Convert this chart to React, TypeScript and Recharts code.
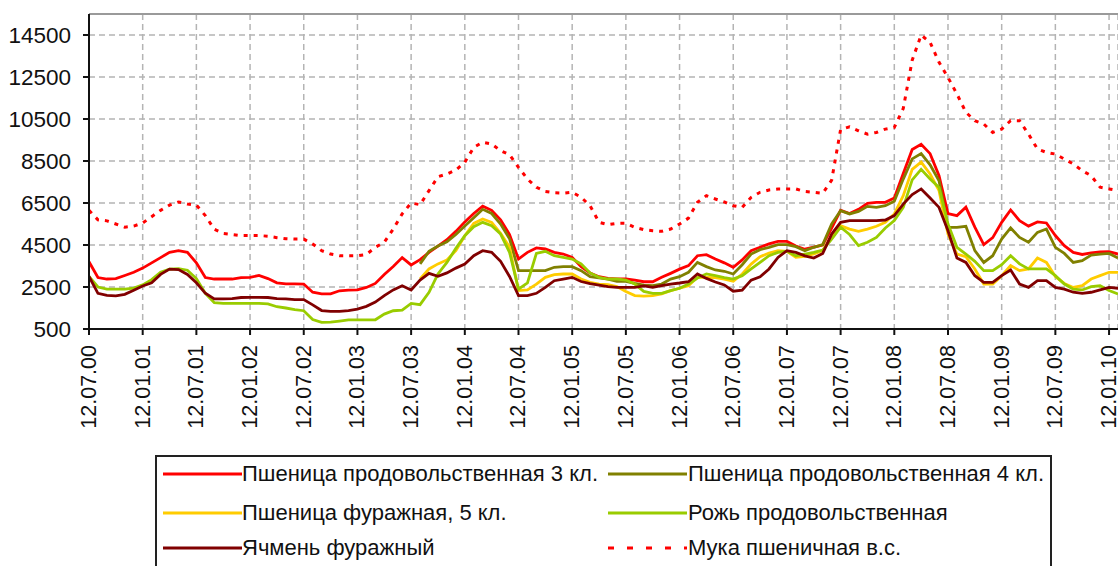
import React from 'react';
import {
  LineChart, Line, XAxis, YAxis, CartesianGrid, ReferenceLine,
} from 'recharts';

const FONT = '"Liberation Sans", Arial, sans-serif';

// months counted from 12.07.2000, one value per month
const months = Array.from({ length: 116 }, (_, i) => i);

const tickMonths = [0, 6, 12, 18, 24, 30, 36, 42, 48, 54, 60, 66, 72, 78, 84, 90, 96, 102, 108, 114];
const tickLabels = [
  '12.07.00', '12.01.01', '12.07.01', '12.01.02', '12.07.02', '12.01.03', '12.07.03',
  '12.01.04', '12.07.04', '12.01.05', '12.07.05', '12.01.06', '12.07.06', '12.01.07',
  '12.07.07', '12.01.08', '12.07.08', '12.01.09', '12.07.09', '12.01.10',
];
const yTicks = [500, 2500, 4500, 6500, 8500, 10500, 12500, 14500];
const Y_MAX = 15500;

const wheat3 = [
  3700, 2950, 2880, 2900, 3050, 3200, 3400, 3650, 3900, 4150, 4230, 4150,
  3650, 2950, 2880, 2880, 2880, 2950, 2960, 3050, 2900, 2700, 2650, 2650,
  2640, 2250, 2170, 2170, 2320, 2350, 2360, 2480, 2670, 3100, 3480, 3900,
  3550, 3800, 4150, 4450, 4750, 5150, 5600, 6000, 6350, 6150, 5700, 5000,
  3830, 4150, 4360, 4310, 4150, 4070, 3910, 3470, 3170, 2990, 2910, 2880,
  2880, 2830, 2750, 2750, 2960, 3150, 3350, 3520, 3990, 4040, 3830, 3650,
  3440, 3790, 4230, 4390, 4550, 4670, 4670, 4450, 4300, 4400, 4500, 5300,
  6150, 6000, 6200, 6480, 6530, 6530, 6740, 7900, 9050, 9300, 8850, 7800,
  6000, 5900, 6300, 5350, 4520, 4850, 5580, 6170, 5660, 5400, 5600, 5550,
  4950, 4470, 4150, 4050, 4120, 4170, 4180, 4070,
];

// 4 кл. and 5 кл. start in August 2003 (month 37)
const LATE_START = 37;
const wheat4 = [
  3600, 4200, 4450, 4650, 5000, 5400, 5800, 6200, 6000, 5500, 4800,
  3280, 3280, 3280, 3280, 3440, 3470, 3470, 3280, 2990, 2930, 2880, 2770,
  2770, 2670, 2590, 2560, 2640, 2880, 2990, 3200, 3670, 3470, 3310, 3250,
  3120, 3560, 4070, 4280, 4390, 4520, 4520, 4420, 4230, 4390, 4520, 5500,
  6130, 5980, 6100, 6340, 6290, 6370, 6580, 7640, 8600, 8850, 8320, 7560,
  5340, 5340, 5390, 4230, 3670, 3990, 4780, 5310, 4860, 4630, 5100, 5260,
  4390, 4100, 3670, 3750, 4020, 4070, 4100, 3880,
];
const wheat5 = [
  2880, 3360, 3600, 3790, 4230, 4940, 5530, 5740, 5580, 5060, 4400,
  2330, 2360, 2640, 2960, 3090, 3120, 3120, 2880, 2720, 2640, 2610, 2520,
  2290, 2090, 2070, 2090, 2170, 2330, 2440, 2560, 2960, 2960, 2950, 2880,
  2770, 3120, 3590, 3940, 4120, 4230, 4200, 3910, 3960, 4070, 4230, 4940,
  5420, 5260, 5150, 5260, 5390, 5580, 5980, 6850, 8100, 8450, 7880, 7090,
  5020, 4070, 3940, 3360, 2640, 2640, 3040, 3520, 3280, 3360, 3880, 3670,
  3000, 2670, 2480, 2560, 2880, 3040, 3200, 3200,
];
const rye = [
  3000, 2500, 2400, 2400, 2400, 2450, 2600, 2850, 3200, 3350, 3370, 3300,
  2900, 2200, 1750, 1720, 1720, 1720, 1720, 1720, 1700, 1560, 1500, 1420,
  1370, 950, 820, 830, 880, 930, 930, 930, 940, 1210, 1370, 1400,
  1720, 1660, 2250, 3120, 3670, 4340, 4940, 5370, 5580, 5420, 5020, 4150,
  2400, 2700, 4100, 4200, 3990, 3910, 3830, 3600, 3170, 2960, 2880, 2880,
  2830, 2640, 2290, 2200, 2200, 2330, 2440, 2640, 2930, 3120, 3040, 2950,
  2880, 3040, 3360, 3670, 3990, 4150, 4200, 3990, 4070, 4150, 4260, 4780,
  5350, 5000, 4470, 4630, 4860, 5310, 5660, 6290, 7600, 8100, 7640, 7240,
  5500, 4390, 4070, 3720, 3280, 3280, 3560, 3990, 3600, 3360, 3360, 3360,
  3040, 2640, 2400, 2360, 2520, 2560, 2330, 2170,
];
const barley = [
  3000, 2200, 2100, 2080, 2150, 2350, 2550, 2700, 3100, 3350, 3330, 3100,
  2700, 2200, 1930, 1930, 1950, 2000, 2010, 2010, 2000, 1950, 1930, 1900,
  1900, 1650, 1380, 1340, 1340, 1380, 1450, 1580, 1780, 2090, 2360, 2560,
  2360, 2830, 3150, 3010, 3170, 3400, 3590, 3990, 4230, 4150, 3720, 3000,
  2090, 2090, 2200, 2480, 2800, 2880, 2960, 2760, 2660, 2590, 2520, 2480,
  2480, 2480, 2550, 2480, 2560, 2640, 2690, 2750, 3120, 2910, 2740, 2600,
  2300, 2350, 2830, 2990, 3360, 3910, 4230, 4150, 3980, 3880, 4100, 5020,
  5580, 5660, 5660, 5660, 5660, 5690, 5900, 6450, 6900, 7170, 6740, 6290,
  5180, 3880, 3670, 3040, 2720, 2720, 3040, 3310, 2640, 2480, 2800, 2800,
  2480, 2400, 2250, 2200, 2250, 2360, 2480, 2440,
];
const flour = [
  6150, 5700, 5650, 5500, 5350, 5400, 5550, 5850, 6150, 6400, 6550, 6450,
  6400, 5900, 5250, 5050, 5000, 4950, 4950, 4950, 4920, 4850, 4800, 4780,
  4780, 4550, 4230, 4070, 3990, 3990, 3990, 4050, 4390, 4630, 5260, 5980,
  6500, 6420, 7090, 7750, 7880, 8070, 8440, 9150, 9390, 9310, 8990, 8800,
  8200, 7640, 7250, 7050, 6990, 6970, 7010, 6770, 6370, 5580, 5470, 5530,
  5530, 5340, 5230, 5180, 5150, 5260, 5500, 5780, 6530, 6850, 6690, 6550,
  6370, 6290, 6770, 7010, 7120, 7170, 7170, 7170, 7050, 7010, 6960, 7590,
  10000, 10130, 9940, 9780, 9860, 10020, 10100, 11000, 13300, 14500, 14150, 13200,
  12480, 11690, 10820, 10420, 10260, 9860, 10020, 10420, 10420, 9780, 9070, 8910,
  8830, 8590, 8360, 8040, 7800, 7250, 7170, 7090,
];

const series = [
  { key: 'wheat3', name: 'Пшеница продовольственная 3 кл.', color: '#ff0000', dashed: false },
  { key: 'wheat4', name: 'Пшеница продовольственная 4 кл.', color: '#808000', dashed: false },
  { key: 'wheat5', name: 'Пшеница фуражная, 5 кл.', color: '#ffcc00', dashed: false },
  { key: 'rye', name: 'Рожь продовольственная', color: '#99cc00', dashed: false },
  { key: 'barley', name: 'Ячмень фуражный', color: '#800000', dashed: false },
  { key: 'flour', name: 'Мука пшеничная в.с.', color: '#ff0000', dashed: true },
];

const data = months.map((t, i) => ({
  t,
  wheat3: wheat3[i],
  wheat4: i >= LATE_START ? wheat4[i - LATE_START] : null,
  wheat5: i >= LATE_START ? wheat5[i - LATE_START] : null,
  rye: rye[i],
  barley: barley[i],
  flour: flour[i],
}));

function DateTick({ x, y, payload }: { x?: number; y?: number; payload?: { value: number } }) {
  const idx = tickMonths.indexOf(payload?.value ?? -1);
  return (
    <text
      transform={`translate(${x},${(y ?? 0) + 8}) rotate(-90)`}
      textAnchor="end"
      dominantBaseline="central"
      fontSize={21.5}
      fontFamily={FONT}
      fill="#111"
    >
      {tickLabels[idx]}
    </text>
  );
}

function LegendBox() {
  const rowY = [17, 56, 91];
  const colSample = [6, 451];
  const colText = [85, 531];
  return (
    <div
      style={{
        position: 'absolute', left: 155, top: 455, width: 897, height: 140,
        border: '2px solid #222', boxSizing: 'border-box', background: '#fff',
      }}
    >
      {series.map((s, i) => {
        const row = Math.floor(i / 2);
        const col = i % 2;
        return (
          <div key={s.key}>
            <svg
              width={80}
              height={10}
              style={{ position: 'absolute', left: colSample[col], top: rowY[row] - 5 }}
            >
              <line
                x1={0} y1={5} x2={79} y2={5}
                stroke={s.color}
                strokeWidth={3}
                strokeDasharray={s.dashed ? '6 13' : undefined}
              />
            </svg>
            <span
              style={{
                position: 'absolute', left: colText[col], top: rowY[row] - 13,
                fontSize: 22, lineHeight: '26px', color: '#111', whiteSpace: 'nowrap',
              }}
            >
              {s.name}
            </span>
          </div>
        );
      })}
    </div>
  );
}

export default function App() {
  return (
    <div
      style={{
        position: 'relative', width: 1118, height: 566, overflow: 'hidden',
        fontFamily: FONT, background: '#fff',
      }}
    >
      <style>{'html, body { margin: 0; overflow: hidden; }'}</style>
      <div style={{ position: 'absolute', left: 8, top: 8 }}>
        <LineChart width={1110} height={440} data={data} margin={{ top: 6, right: 0, bottom: 0, left: 0 }}>
          <CartesianGrid stroke="#b4b4b4" strokeDasharray="6 4" strokeWidth={1.5} />
          <XAxis
            type="number"
            dataKey="t"
            domain={[0, 115]}
            ticks={tickMonths}
            allowDataOverflow
            height={119}
            axisLine={{ stroke: '#111', strokeWidth: 2 }}
            tickLine={{ stroke: '#111', strokeWidth: 2 }}
            tickSize={6}
            tick={<DateTick />}
            interval={0}
          />
          <YAxis
            domain={[500, Y_MAX]}
            ticks={yTicks}
            allowDataOverflow
            width={81}
            axisLine={{ stroke: '#111', strokeWidth: 2 }}
            tickLine={{ stroke: '#111', strokeWidth: 2 }}
            tickSize={6}
            tickMargin={12}
            tick={{ fontSize: 22.5, fill: '#111', fontFamily: FONT }}
            interval={0}
          />
          <ReferenceLine y={Y_MAX} stroke="#9a9a9a" strokeWidth={2} />
          {series.map(s => (
            <Line
              key={s.key}
              type="linear"
              dataKey={s.key}
              stroke={s.color}
              strokeWidth={s.dashed ? 3 : 2.8}
              strokeDasharray={s.dashed ? '4 6' : undefined}
              dot={false}
              activeDot={false}
              isAnimationActive={false}
            />
          ))}
        </LineChart>
      </div>
      <LegendBox />
    </div>
  );
}
